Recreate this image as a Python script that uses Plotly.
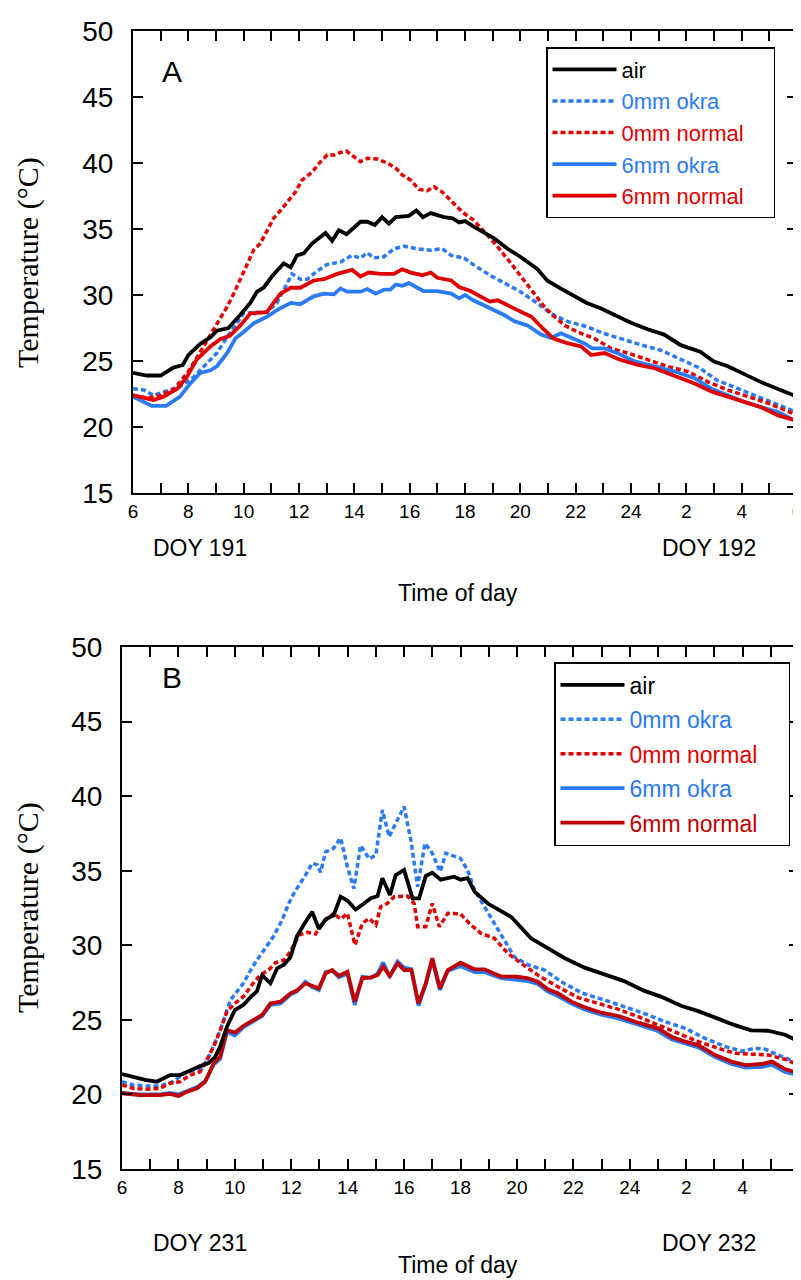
import plotly.graph_objects as go

# ---------------- data: panel A (DOY 191-192) ----------------
A_air_t = [6.0, 6.5, 7.0, 7.46, 7.8, 8.0, 8.43, 8.8, 9.03, 9.45,
           9.88, 10.24, 10.48, 10.72, 11.02, 11.45, 11.7, 11.93, 12.17, 12.47,
           12.96, 13.2, 13.44, 13.72, 14.22, 14.47, 14.74, 15.0, 15.25, 15.5,
           15.97, 16.24, 16.48, 16.76, 17.24, 17.55, 17.79, 18.0, 18.3, 18.7,
           19.05, 19.54, 20.0, 20.6, 20.97, 21.45, 21.95, 22.4, 22.9, 23.4,
           24.0, 24.6, 25.2, 25.8, 26.5, 27.0, 27.5, 28.0, 28.7, 29.4,
           30.0]
A_air = [24.1, 23.9, 23.9, 24.5, 24.7, 25.45, 26.3, 26.8, 27.3, 27.5,
         28.5, 29.4, 30.25, 30.55, 31.4, 32.4, 32.1, 33.0, 33.15, 33.9,
         34.7, 34.1, 34.9, 34.6, 35.55, 35.55, 35.3, 35.9, 35.4, 35.9,
         36.0, 36.4, 35.9, 36.2, 35.9, 35.8, 35.5, 35.6, 35.2, 34.7,
         34.3, 33.5, 32.9, 32.0, 31.1, 30.5, 29.9, 29.4, 29.0, 28.5,
         27.9, 27.4, 27.0, 26.2, 25.7, 24.95, 24.6, 24.1, 23.4, 22.8,
         22.3]

A_okra0_t = [6.0, 6.4, 6.74, 7.2, 7.7, 8.2, 8.67, 9.03, 9.4, 9.7,
             10.0, 10.48, 10.84, 11.2, 11.5, 11.75, 12.05, 12.3, 12.65, 13.0,
             13.5, 13.92, 14.22, 14.47, 14.7, 15.07, 15.43, 15.8, 16.28, 16.76,
             17.18, 17.5, 17.97, 18.3, 18.9, 19.4, 20.0, 20.6, 21.1, 21.7,
             22.4, 23.0, 23.6, 24.4, 25.1, 25.8, 26.5, 27.1, 27.9, 28.6,
             29.3, 30.0]
A_okra0 = [22.9, 22.8, 22.4, 22.7, 23.05, 23.8, 24.8, 25.6, 26.8, 27.7,
           28.6, 28.7, 28.7, 29.4, 30.6, 31.6, 31.2, 31.2, 31.8, 32.3,
           32.5, 33.0, 32.8, 33.2, 32.8, 32.9, 33.5, 33.7, 33.5, 33.4,
           33.5, 33.0, 32.8, 32.3, 31.5, 30.9, 30.25, 29.4, 28.6, 28.0,
           27.6, 27.1, 26.7, 26.2, 25.8, 25.1, 24.45, 23.55, 22.9, 22.3,
           21.7, 21.1]

A_norm0_t = [6.0, 6.5, 7.0, 7.5, 8.0, 8.3, 8.55, 8.8, 9.1, 9.4,
             9.64, 9.82, 10.06, 10.36, 10.6, 10.84, 11.08, 11.33, 11.63, 11.87,
             12.11, 12.47, 12.78, 13.02, 13.26, 13.5, 13.72, 13.92, 14.22, 14.47,
             14.83, 15.19, 15.5, 15.73, 16.04, 16.34, 16.64, 16.88, 17.18, 17.42,
             17.67, 17.9, 18.15, 18.3, 18.8, 19.18, 19.66, 20.14, 20.5, 20.87,
             21.23, 21.6, 22.07, 22.68, 23.28, 23.88, 24.6, 25.3, 26.06, 26.8,
             27.5, 28.2, 28.96, 30.0]
A_norm0 = [22.4, 22.2, 22.4, 22.9, 24.2, 25.3, 26.1, 27.0, 28.0, 29.1,
           30.1, 30.9, 32.1, 33.4, 33.9, 34.9, 35.8, 36.4, 37.2, 37.8,
           38.7, 39.3, 40.1, 40.6, 40.6, 40.8, 40.9, 40.6, 40.1, 40.35,
           40.3, 40.0, 39.6, 39.1, 38.7, 38.0, 37.9, 38.2, 37.8, 37.3,
           36.8, 36.3, 35.9, 35.7, 34.55, 33.65, 32.4, 31.1, 30.1, 29.1,
           28.35, 27.7, 27.2, 26.7, 25.95, 25.6, 25.1, 24.6, 24.2, 23.4,
           22.8, 22.3, 21.8, 20.9]

A_okra6_t = [6.0, 6.25, 6.68, 7.2, 7.7, 8.07, 8.43, 8.8, 9.03, 9.4,
             9.7, 10.0, 10.36, 10.84, 11.2, 11.7, 12.05, 12.53, 12.9, 13.26,
             13.5, 13.74, 14.22, 14.47, 14.77, 15.07, 15.3, 15.5, 15.73, 15.97,
             16.5, 17.0, 17.5, 17.79, 18.0, 18.3, 18.9, 19.4, 19.8, 20.26,
             20.75, 21.1, 21.47, 21.95, 22.3, 22.6, 23.04, 23.5, 24.1, 24.85,
             25.58, 26.3, 26.9, 27.5, 28.1, 28.7, 29.3, 30.0]
A_okra6 = [22.3, 22.05, 21.6, 21.6, 22.3, 23.3, 24.1, 24.3, 24.6, 25.6,
           26.7, 27.2, 27.85, 28.35, 28.85, 29.4, 29.3, 29.9, 30.1, 30.05,
           30.5, 30.25, 30.25, 30.45, 30.1, 30.4, 30.4, 30.8, 30.7, 30.9,
           30.3, 30.3, 30.1, 29.75, 30.0, 29.6, 29.0, 28.5, 28.0, 27.7,
           27.0, 26.75, 27.1, 26.65, 26.35, 25.95, 25.95, 25.6, 25.0, 24.6,
           24.2, 23.7, 22.9, 22.4, 21.9, 21.5, 21.15, 20.4]

A_norm6_t = [6.0, 6.25, 6.74, 7.1, 7.6, 7.95, 8.3, 8.8, 9.15, 9.5,
             9.88, 10.24, 10.84, 11.08, 11.33, 11.7, 12.05, 12.53, 12.9, 13.38,
             13.92, 14.22, 14.52, 14.95, 15.43, 15.73, 16.04, 16.46, 16.76, 17.0,
             17.5, 17.79, 18.2, 18.9, 19.18, 19.66, 20.4, 20.87, 21.2, 21.7,
             22.2, 22.56, 23.04, 23.6, 24.25, 24.85, 25.58, 26.3, 26.9, 27.5,
             28.1, 28.7, 29.3, 30.0]
A_norm6 = [22.4, 22.3, 22.05, 22.3, 22.9, 23.8, 25.1, 26.1, 26.65, 26.9,
           27.7, 28.6, 28.7, 29.4, 30.1, 30.55, 30.55, 31.1, 31.2, 31.6,
           31.9, 31.4, 31.7, 31.6, 31.6, 31.95, 31.7, 31.5, 31.7, 31.3,
           31.1, 30.6, 30.3, 29.5, 29.6, 29.1, 28.35, 27.35, 26.7, 26.35,
           26.1, 25.45, 25.6, 25.1, 24.7, 24.45, 23.9, 23.3, 22.7, 22.3,
           21.85, 21.5, 20.9, 20.45]

# ---------------- data: panel B (DOY 231-232) ----------------
B_air_t = [6.0, 6.4, 6.82, 7.23, 7.7, 8.06, 8.42, 8.77, 9.07, 9.3,
           9.48, 9.72, 10.0, 10.3, 10.6, 10.78, 10.97, 11.26, 11.5, 11.74,
           11.97, 12.2, 12.45, 12.74, 12.98, 13.22, 13.5, 13.75, 13.99, 14.28,
           14.58, 14.82, 15.06, 15.23, 15.5, 15.7, 16.0, 16.3, 16.53, 16.77,
           17.0, 17.3, 17.78, 18.0, 18.25, 18.5, 18.97, 19.8, 20.5, 21.1,
           21.7, 22.4, 23.1, 23.8, 24.5, 25.1, 25.84, 26.4, 27.1, 27.7,
           28.3, 28.9, 29.5, 30.0]
B_air = [21.37, 21.15, 20.97, 20.85, 21.3, 21.3, 21.64, 21.9, 22.1, 22.5,
         23.2, 24.54, 25.66, 26.0, 26.6, 26.9, 28.0, 27.45, 28.46, 28.7,
         29.2, 30.6, 31.4, 32.25, 31.1, 31.75, 32.0, 33.26, 33.0, 32.4,
         32.8, 33.15, 33.3, 34.5, 33.37, 34.7, 35.05, 33.15, 33.15, 34.65,
         34.87, 34.4, 34.6, 34.4, 34.5, 33.6, 32.8, 31.9, 30.47, 29.8,
         29.13, 28.5, 28.07, 27.6, 26.96, 26.56, 25.93, 25.6, 25.1, 24.66,
         24.3, 24.27, 24.0, 23.54]

B_okra0_t = [6.0, 6.4, 6.88, 7.35, 7.8, 8.2, 8.55, 8.84, 9.07, 9.3,
             9.48, 9.66, 9.84, 10.08, 10.3, 10.55, 10.78, 11.08, 11.37, 11.68,
             11.91, 12.1, 12.33, 12.57, 12.74, 12.92, 13.04, 13.22, 13.5, 13.75,
             13.99, 14.22, 14.46, 14.76, 15.0, 15.23, 15.47, 15.7, 16.0, 16.24,
             16.48, 16.74, 17.0, 17.28, 17.48, 18.0, 18.25, 18.5, 18.85, 19.2,
             19.56, 19.9, 20.4, 20.98, 21.57, 22.3, 23.1, 23.8, 24.5, 25.25,
             25.96, 26.67, 27.4, 27.97, 28.45, 28.8, 29.4, 30.0]
B_okra0 = [20.85, 20.63, 20.56, 20.56, 20.85, 21.4, 21.64, 21.75, 22.5, 23.54,
           24.3, 25.3, 26.33, 26.9, 27.45, 28.3, 29.0, 29.8, 30.6, 31.7,
           32.8, 33.5, 34.16, 34.9, 35.5, 35.4, 34.9, 36.27, 36.5, 37.2,
           35.27, 33.8, 36.7, 35.8, 36.05, 39.07, 37.28, 38.2, 39.3, 37.06,
           33.93, 36.84, 36.17, 34.93, 36.17, 35.83, 35.05, 33.7, 32.6, 31.5,
           30.36, 29.24, 28.68, 28.34, 27.56, 26.8, 26.33, 25.9, 25.44, 24.88,
           24.43, 23.76, 23.2, 22.9, 23.1, 23.03, 22.53, 22.1]

B_norm0_t = [6.0, 6.4, 6.88, 7.35, 7.7, 8.06, 8.42, 8.77, 9.0, 9.25,
             9.48, 9.72, 10.0, 10.3, 10.65, 10.9, 11.2, 11.44, 11.74, 11.97,
             12.27, 12.57, 12.86, 13.16, 13.5, 13.75, 13.99, 14.26, 14.52, 14.76,
             15.0, 15.17, 15.4, 15.65, 16.12, 16.36, 16.48, 16.77, 17.0, 17.25,
             17.55, 18.0, 18.37, 18.73, 19.2, 19.68, 20.15, 20.74, 21.45, 22.17,
             22.88, 23.6, 24.3, 25.0, 25.72, 26.43, 27.14, 27.73, 28.33, 28.92,
             29.5, 30.0]
B_norm0 = [20.63, 20.41, 20.34, 20.41, 20.75, 20.85, 21.3, 21.52, 22.3, 23.2,
           24.3, 25.55, 26.1, 26.55, 27.45, 28.0, 28.34, 28.83, 29.0, 29.57,
           30.69, 30.87, 30.76, 31.58, 32.14, 31.76, 32.14, 30.02, 31.47, 31.8,
           31.36, 32.59, 32.8, 33.26, 33.3, 32.8, 31.25, 31.25, 32.8, 31.25,
           32.14, 32.1, 31.36, 30.8, 30.47, 29.46, 28.79, 28.0, 27.22, 26.49,
           26.1, 25.7, 25.21, 24.66, 24.1, 23.54, 23.09, 22.76, 22.7, 22.64,
           22.36, 21.97]

B_6mm_t = [6.0, 6.64, 7.35, 7.7, 8.0, 8.3, 8.66, 8.95, 9.25, 9.48,
           9.72, 10.0, 10.3, 10.65, 10.97, 11.26, 11.62, 11.97, 12.2, 12.5,
           12.74, 12.98, 13.22, 13.45, 13.69, 13.99, 14.25, 14.52, 14.82, 15.06,
           15.26, 15.49, 15.77, 16.0, 16.26, 16.51, 16.77, 17.0, 17.27, 17.55,
           18.0, 18.5, 18.85, 19.44, 20.0, 20.4, 20.74, 21.1, 21.45, 21.93,
           22.4, 22.99, 23.6, 24.3, 25.0, 25.48, 25.96, 26.43, 27.03, 27.6,
           28.1, 28.7, 29.04, 29.5, 30.0]
B_norm6 = [20.08, 19.96, 19.96, 20.03, 19.9, 20.18, 20.41, 20.85, 22.09, 22.53,
           24.32, 24.14, 24.59, 24.99, 25.33, 26.1, 26.22, 26.78, 26.96, 27.45,
           27.27, 27.12, 28.12, 28.34, 27.94, 28.23, 26.22, 27.79, 27.85, 28.0,
           28.57, 27.94, 28.79, 28.34, 28.34, 26.1, 27.45, 29.13, 27.12, 28.34,
           28.83, 28.39, 28.39, 27.9, 27.9, 27.79, 27.56, 27.05, 26.78, 26.22,
           25.84, 25.48, 25.26, 24.81, 24.43, 23.87, 23.54, 23.31, 22.64, 22.2,
           21.97, 22.04, 22.2, 21.7, 21.42]
B_okra6 = [20.1, 20.0, 20.0, 20.1, 20.0, 20.25, 20.5, 20.9, 22.0, 22.4,
           24.2, 23.95, 24.5, 24.9, 25.25, 26.0, 26.1, 26.7, 26.9, 27.55,
           27.2, 27.0, 28.2, 28.3, 27.85, 28.1, 26.0, 27.9, 27.8, 28.1,
           28.85, 27.9, 28.9, 28.5, 28.4, 25.95, 27.4, 29.0, 27.0, 28.3,
           28.6, 28.2, 28.2, 27.8, 27.7, 27.6, 27.4, 26.9, 26.6, 26.1,
           25.7, 25.35, 25.1, 24.65, 24.25, 23.7, 23.4, 23.15, 22.5, 22.05,
           21.8, 21.85, 22.0, 21.5, 21.3]

tick_vals = list(range(6, 31))
tick_text = ["6", "", "8", "", "10", "", "12", "", "14", "", "16", "", "18", "",
             "20", "", "22", "", "24", "", "2", "", "4", "", "6"]
names = ["air", "0mm okra", "0mm normal", "6mm okra", "6mm normal"]

# ---------------- styling ----------------
BLACK = "#000000"
BLUE = "#2b7bf5"
RED = "#e00000"
DARKRED = "#c00000"
SANS = "Liberation Sans, Arial, sans-serif"
SERIF = "Liberation Serif, Times New Roman, serif"
DOT = "5px,3px"
PAD = "\u00a0" * 4  # widens the legend box like the original frame

# page body has an 8px default margin; lay out in page pixels
OFF = 8
W, H = 801 - OFF, 1280 - OFF


def px_x(p):
    return (p - OFF) / W


def px_y(p):
    return 1 - (p - OFF) / H


fig = go.Figure()


def add(x, y, name, color, dash, width, xa, ya, legend, rank, group):
    fig.add_trace(go.Scatter(
        x=x, y=y, mode="lines",
        name="<span style='color:%s'>%s</span>%s" % (color, name, PAD),
        line=dict(color=color, width=width, dash=dash),
        xaxis=xa, yaxis=ya, legend=legend, legendrank=rank,
        legendgroup=group, hoverinfo="skip"))


# panel A (draw order: dotted, solid, air on top)
add(A_okra0_t, A_okra0, names[1], BLUE, DOT, 3.5, "x", "y", "legend", 2, "a2")
add(A_norm0_t, A_norm0, names[2], RED, DOT, 3.5, "x", "y", "legend", 3, "a3")
add(A_okra6_t, A_okra6, names[3], BLUE, "solid", 3.8, "x", "y", "legend", 4, "a4")
add(A_norm6_t, A_norm6, names[4], RED, "solid", 3.8, "x", "y", "legend", 5, "a5")
add(A_air_t, A_air, names[0], BLACK, "solid", 3.8, "x", "y", "legend", 1, "a1")

# panel B
add(B_okra0_t, B_okra0, names[1], BLUE, DOT, 3.5, "x2", "y2", "legend2", 2, "b2")
add(B_norm0_t, B_norm0, names[2], RED, DOT, 3.5, "x2", "y2", "legend2", 3, "b3")
add(B_6mm_t, B_okra6, names[3], BLUE, "solid", 3.8, "x2", "y2", "legend2", 4, "b4")
add(B_6mm_t, B_norm6, names[4], DARKRED, "solid", 3.8, "x2", "y2", "legend2", 5, "b5")
add(B_air_t, B_air, names[0], BLACK, "solid", 3.8, "x2", "y2", "legend2", 1, "b1")

xcommon = dict(range=[6, 30], tickmode="array", tickvals=tick_vals, ticktext=tick_text,
               ticks="inside", ticklen=10, tickwidth=1.5, tickcolor="black",
               showline=True, linecolor="black", linewidth=2, mirror="ticks",
               showgrid=False, zeroline=False, automargin=False,
               tickfont=dict(family=SANS, size=19, color="black"),
               ticklabelstandoff=0, ticklabeloverflow="allow")
ycommon = dict(range=[15, 50], tickmode="linear", tick0=15, dtick=5,
               ticks="inside", ticklen=10, tickwidth=1.5, tickcolor="black",
               showline=True, linecolor="black", linewidth=2, mirror="ticks",
               showgrid=False, zeroline=False, automargin=False,
               tickfont=dict(family=SANS, size=28, color="black"),
               ticklabelstandoff=12, ticklabeloverflow="allow")

fig.update_layout(
    width=W, height=H,
    margin=dict(l=0, r=0, t=0, b=0),
    paper_bgcolor="white", plot_bgcolor="white",
    font=dict(family=SANS, color="black"),
    xaxis=dict(domain=[px_x(133), px_x(797)], anchor="y", **xcommon),
    yaxis=dict(domain=[px_y(493), px_y(31)], anchor="x", **ycommon),
    xaxis2=dict(domain=[px_x(122), px_x(799)], anchor="y2", **xcommon),
    yaxis2=dict(domain=[px_y(1169), px_y(647)], anchor="x2", **ycommon),
    legend=dict(x=px_x(546), y=px_y(47), xanchor="left", yanchor="top",
                bgcolor="white", bordercolor="black", borderwidth=1.5,
                font=dict(family=SANS, size=22), itemwidth=64,
                tracegroupgap=0, traceorder="grouped"),
    legend2=dict(x=px_x(554), y=px_y(662), xanchor="left", yanchor="top",
                 bgcolor="white", bordercolor="black", borderwidth=1.5,
                 font=dict(family=SANS, size=23), itemwidth=64,
                 tracegroupgap=1.5, traceorder="grouped"),
    showlegend=True,
)

ann = [
    ("A", 172, 71, 30, SANS, 0),
    ("B", 172, 677, 30, SANS, 0),
    ("DOY 191", 200, 548, 23, SANS, 0),
    ("DOY 192", 709, 548, 23, SANS, 0),
    ("Time of day", 458, 593, 23, SANS, 0),
    ("DOY 231", 200, 1243, 23, SANS, 0),
    ("DOY 232", 709, 1243, 23, SANS, 0),
    ("Time of day", 458, 1265, 23, SANS, 0),
    ("Temperature (°C)", 28, 263, 30, SERIF, -90),
    ("Temperature (°C)", 28, 908, 30, SERIF, -90),
]
for text, ax_, ay_, size, fam, ang in ann:
    fig.add_annotation(text=text, x=px_x(ax_), y=px_y(ay_), xref="paper", yref="paper",
                       xanchor="center", yanchor="middle", showarrow=False,
                       textangle=ang, font=dict(family=fam, size=size, color="black"))

fig.write_html("out.html")
